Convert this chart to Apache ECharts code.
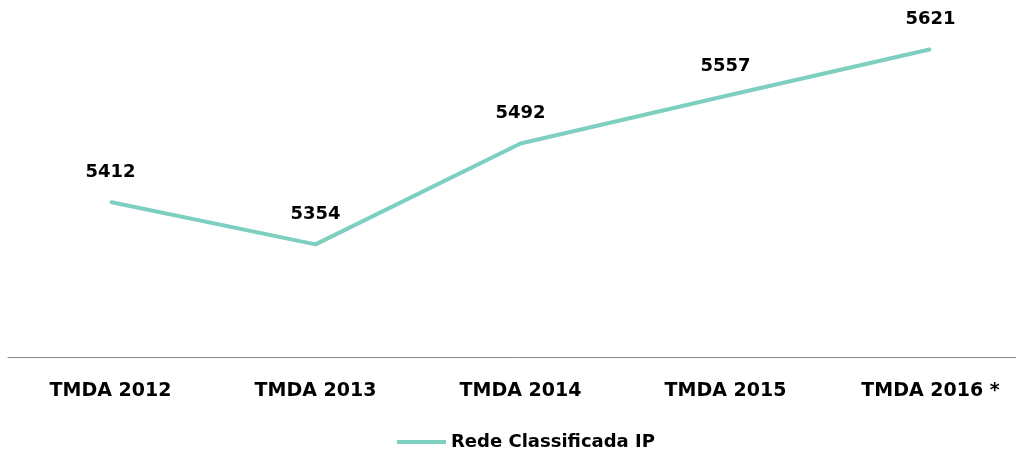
<!DOCTYPE html>
<html>
<head>
<meta charset="utf-8">
<script src="https://cdn.jsdelivr.net/npm/echarts@6/dist/echarts.min.js"></script>
<style>
  html, body { margin: 0; padding: 0; background: #fff; }
  #chart { width: 1016px; height: 451px; }
</style>
</head>
<body>
<div id="chart"></div>
<script>
var categories = ['TMDA 2012', 'TMDA 2013', 'TMDA 2014', 'TMDA 2015', 'TMDA 2016 *']
var seriesName = 'Rede Classificada IP'
var values = [5412, 5354, 5492, 5557, 5621]

var lineColor = '#7dcfc0'
var myChart = echarts.init(document.getElementById('chart'))

var option = {
  animation: false,
  textStyle: { fontFamily: 'DejaVu Sans' },
  grid: {
    top: 28,
    left: 8,
    right: -17,
    bottom: 94,
    outerBoundsMode: 'none',
  },
  legend: {
    top: 428,
    left: 392,
    icon: 'rect',
    itemWidth: 49,
    itemHeight: 4,
    itemGap: 6,
    itemStyle: { color: lineColor, opacity: 1 },
    textStyle: {
      color: '#000',
      fontSize: 18,
      fontWeight: 'bold',
      fontFamily: 'DejaVu Sans',
    },
    data: [seriesName],
  },
  xAxis: {
    type: 'category',
    boundaryGap: true,
    data: categories,
    axisLine: {
      show: true,
      lineStyle: { color: '#888', width: 1 },
    },
    axisTick: { show: false },
    axisLabel: {
      color: '#000',
      fontSize: 19,
      fontWeight: 'bold',
      margin: 25,
    },
  },
  yAxis: {
    type: 'value',
    min: 5200,
    max: 5650,
    show: false,
    splitLine: { show: false },
  },
  series: [
    {
      name: seriesName,
      type: 'line',
      data: values,
      symbol: 'circle',
      symbolSize: 2,
      showSymbol: true,
      lineStyle: { color: lineColor, width: 4 },
      itemStyle: { color: lineColor },
      label: {
        show: true,
        position: 'top',
        distance: 20,
        color: '#000',
        fontSize: 18,
        fontWeight: 'bold',
      },
    },
  ],
}

myChart.setOption(option)
</script>
</body>
</html>
